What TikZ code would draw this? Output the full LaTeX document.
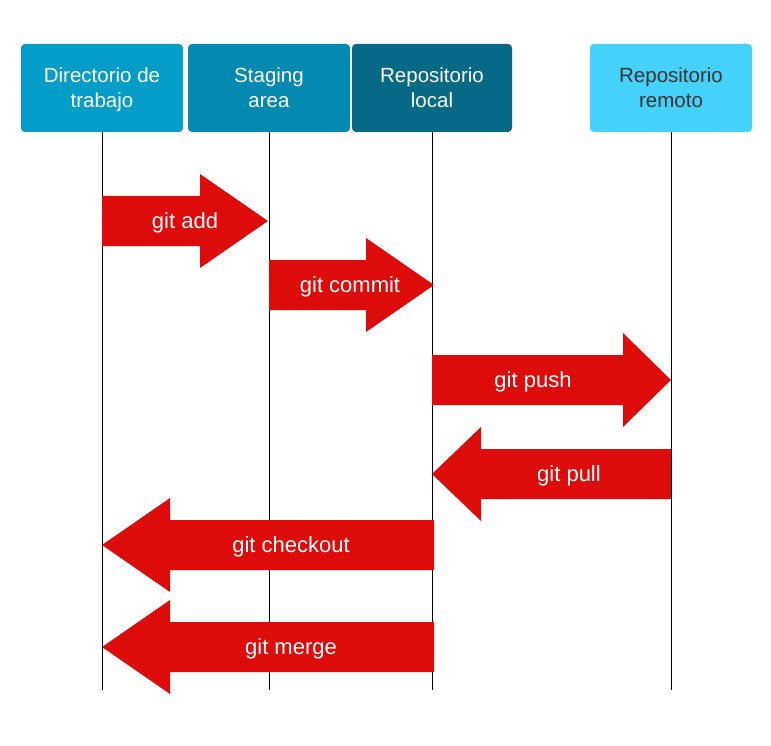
\documentclass[tikz,border=0pt]{standalone}
\usepackage{fontspec}
\setmainfont{Liberation Sans}
\usetikzlibrary{positioning}
\definecolor{workblue}{HTML}{049DC8}
\definecolor{stageblue}{HTML}{0489B1}
\definecolor{localblue}{HTML}{066A87}
\definecolor{remoteblue}{HTML}{44D1FA}
\definecolor{gitred}{HTML}{DE0B0B}
\definecolor{darktext}{HTML}{333333}
% two lines with fixed height and depth, so every header sits alike
\newcommand{\twolines}[2]{\rule{0pt}{19pt}#1\\#2\rule[-4pt]{0pt}{4pt}}
\tikzset{
  header/.style={rounded corners=4pt, minimum width=162pt, minimum height=88pt,
    inner sep=0pt, align=center, text=white, font=\fontsize{20.5}{25}\selectfont},
  lifeline/.style={black, line width=0.8pt},
  bigarrow/.style={fill=gitred},
  cmdlabel/.style={text=white, font=\fontsize{22}{26}\selectfont, inner sep=0pt, anchor=base}
}
\begin{document}
\begin{tikzpicture}[x=1pt, y=-1pt]
  \useasboundingbox (0,0) rectangle (771,746);
  % header boxes
  \node[header, fill=workblue] (work) at (102,88) {\twolines{Directorio de}{trabajo}};
  \node[header, fill=stageblue] (stage) at (269,88) {\twolines{Staging}{area}};
  \node[header, fill=localblue, minimum width=160pt] (local) at (432,88) {\twolines{Repositorio}{local}};
  \node[header, fill=remoteblue, text=darktext] (remote) at (671,88) {\twolines{Repositorio}{remoto}};
  % lifelines
  \foreach \lane in {work,stage,local,remote} {
    \coordinate (\lane-end) at (\lane.south |- 0,690);
    \draw[lifeline] (\lane.south) -- (\lane-end);
  }
  % commands: from / tip / centre y / head length / label x / label
  \foreach \from/\tip/\y/\head/\lx/\txt [count=\i] in {
      102/268/221/68/185/git add,
      269/434/285/68/350/git commit,
      432/671/380/48/533/git push,
      671/432/474/49/569/git pull,
      434/102/545/68/291/git checkout,
      434/102/647/68/291/git merge} {%
    \pgfmathsetmacro{\base}{\tip - \head*sign(\tip-\from)}
    \fill[bigarrow] (\from,\y-25) -- (\base,\y-25) -- (\base,\y-47) -- (\tip,\y)
      -- (\base,\y+47) -- (\base,\y+25) -- (\from,\y+25) -- cycle;
    \node[cmdlabel] (cmd\i) at (\lx,\y+7.5) {\txt};
  }
\end{tikzpicture}
\end{document}
